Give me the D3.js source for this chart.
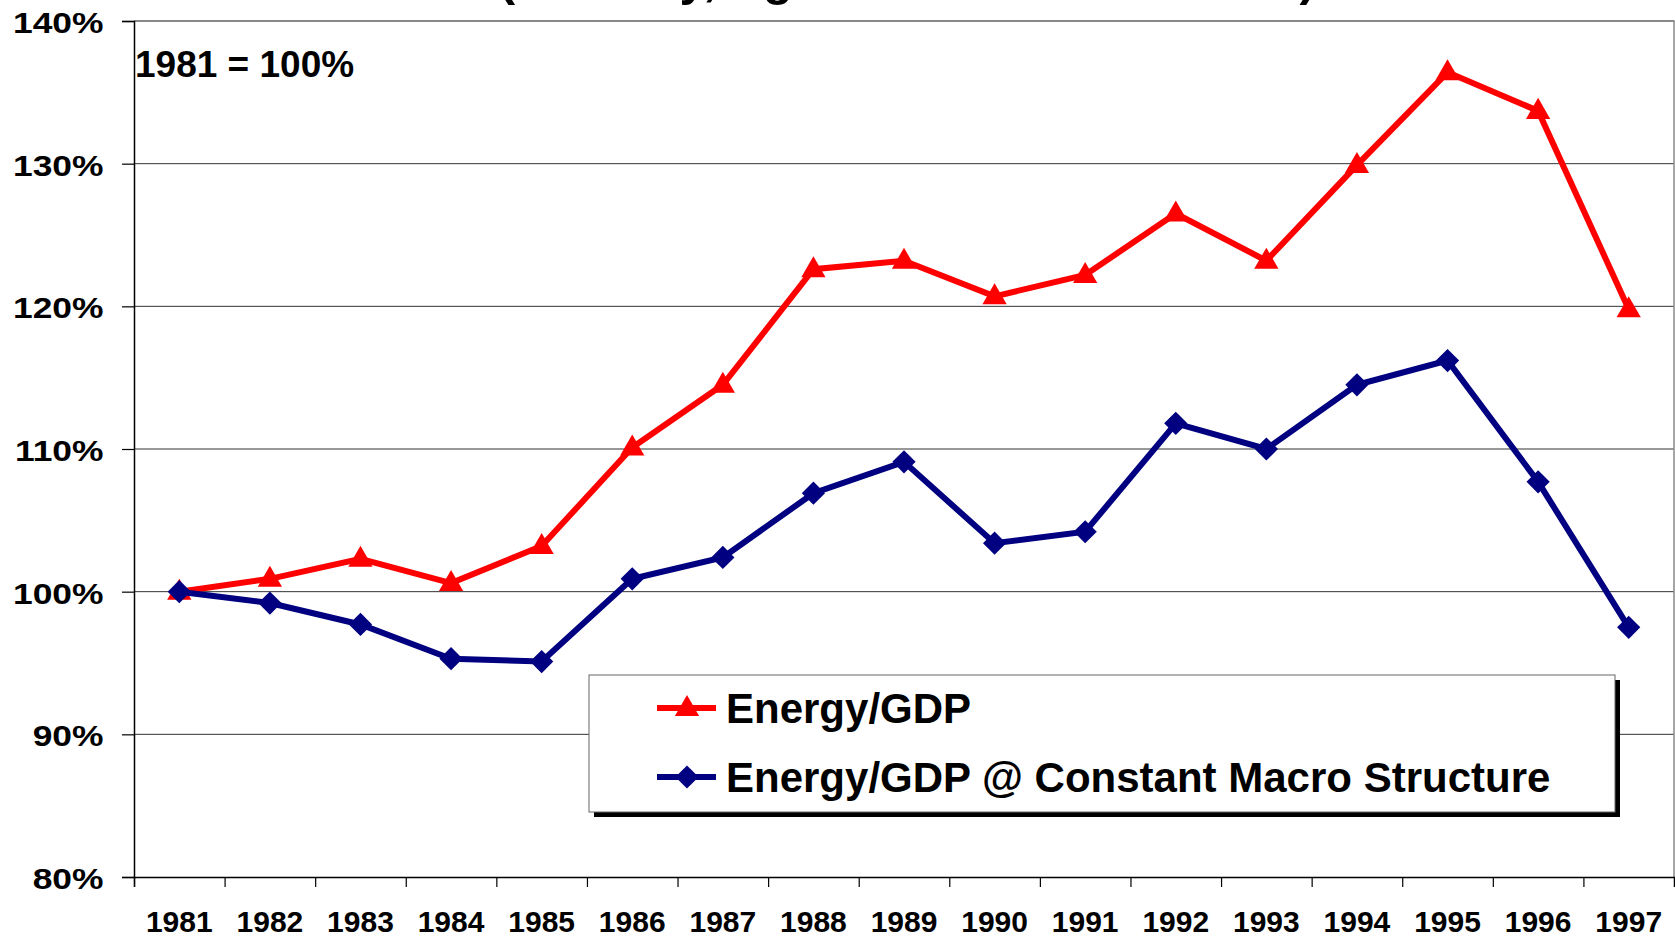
<!DOCTYPE html>
<html>
<head>
<meta charset="utf-8">
<script src="https://cdn.jsdelivr.net/npm/d3@7/dist/d3.min.js"></script>
<style>
  html, body { margin: 0; padding: 0; background: #fff; }
  svg { display: block; font-family: "Liberation Sans", Arial, sans-serif; font-weight: bold; }
</style>
</head>
<body>
<svg id="chart" width="1675" height="938"></svg>
<script>
const years = ["1981","1982","1983","1984","1985","1986","1987","1988","1989","1990","1991","1992","1993","1994","1995","1996","1997"];
const energyGDP = [100.0, 100.9, 102.3, 100.6, 103.2, 110.1, 114.5, 122.6, 123.2, 120.7, 122.2, 126.5, 123.2, 129.9, 136.4, 133.7, 119.8];
const energyGDPConst = [100.0, 99.2, 97.7, 95.3, 95.1, 100.9, 102.4, 106.9, 109.1, 103.4, 104.2, 111.8, 110.0, 114.5, 116.2, 107.7, 97.5];
const yTicks = [80, 90, 100, 110, 120, 130, 140];
const seriesNames = ["Energy/GDP", "Energy/GDP @ Constant Macro Structure"];
const titleText = "(Industry, Agriculture and Services)";
const noteText = "1981 = 100%";

const svg = d3.select("#chart");
const plotLeft = 134, plotRight = 1674, plotTop = 21, plotBottom = 877;

const x = d3.scaleBand().domain(years).range([plotLeft, plotRight]).padding(0);
const xEdge = d3.scaleLinear().domain([0, years.length]).range([plotLeft, plotRight]);
const y = d3.scaleLinear().domain([80, 140]).range([plotBottom, plotTop]);
const cx = d => x(d) + x.bandwidth() / 2;

// title, cut off at the top edge as in the reference (only descenders visible)
svg.append("text").attr("x", 499).attr("y", -5).attr("font-size", 48.5)
  .attr("fill", "#000").text(titleText);

// gridlines
svg.append("g").selectAll("line").data(yTicks.filter(v => v > 80 && v < 140)).join("line")
  .attr("x1", plotLeft).attr("x2", plotRight).attr("y1", d => y(d)).attr("y2", d => y(d))
  .attr("stroke", "#333").attr("stroke-width", 1);
// top & right border
svg.append("line").attr("x1", plotLeft).attr("x2", plotRight + 0.5).attr("y1", y(140)).attr("y2", y(140))
  .attr("stroke", "#888").attr("stroke-width", 2);
svg.append("line").attr("x1", plotRight).attr("x2", plotRight).attr("y1", y(140)).attr("y2", plotBottom)
  .attr("stroke", "#888").attr("stroke-width", 1.5);

// y axis
const yAxis = svg.append("g").attr("transform", `translate(${plotLeft},0)`)
  .call(d3.axisLeft(y).tickValues(yTicks).tickSize(12).tickFormat(d => d + "%"));
yAxis.select(".domain").attr("stroke", "#000").attr("stroke-width", 1.5);
yAxis.selectAll(".tick line").attr("stroke", "#000").attr("stroke-width", 1.2);
yAxis.selectAll(".tick text")
  .attr("x", 0).attr("dy", "0.38em")
  .attr("transform", "translate(-30.5,0) scale(1.18,1)")
  .attr("text-anchor", "end")
  .attr("font-size", 30).attr("font-weight", "bold").attr("fill", "#000")
  .attr("font-family", "Liberation Sans, Arial, sans-serif");

// x axis: tick marks at category edges
const xTickAxis = svg.append("g").attr("transform", `translate(0,${plotBottom})`)
  .call(d3.axisBottom(xEdge).tickValues(d3.range(0, years.length)).tickSize(10).tickFormat(""));
xTickAxis.select(".domain").attr("stroke", "#000").attr("stroke-width", 1.5);
xTickAxis.selectAll(".tick line").attr("stroke", "#000").attr("stroke-width", 1.2);

const xAxis = svg.append("g").attr("transform", `translate(0,${plotBottom})`)
  .call(d3.axisBottom(x).tickSize(0));
xAxis.select(".domain").remove();
xAxis.selectAll(".tick text").attr("y", 33.5).attr("dy", "0.71em")
  .attr("font-size", 30).attr("font-weight", "bold").attr("fill", "#000")
  .attr("font-family", "Liberation Sans, Arial, sans-serif");

// note
svg.append("text").attr("x", 135).attr("y", 77).attr("font-size", 37).attr("fill", "#000").text(noteText);

const line = d3.line().x((d, i) => cx(years[i])).y(d => y(d));
const triangle = d3.symbol().type(d3.symbolTriangle).size(255);
const diamond = d3.symbol().type(d3.symbolSquare).size(270);

// red series
svg.append("path").datum(energyGDP).attr("d", line)
  .attr("fill", "none").attr("stroke", "#ff0000").attr("stroke-width", 6);
svg.append("g").selectAll("path").data(energyGDP).join("path")
  .attr("d", triangle).attr("fill", "#ff0000")
  .attr("transform", (d, i) => `translate(${cx(years[i])},${y(d) + 1})`);

// blue series
svg.append("path").datum(energyGDPConst).attr("d", line)
  .attr("fill", "none").attr("stroke", "#000080").attr("stroke-width", 6);
svg.append("g").selectAll("path").data(energyGDPConst).join("path")
  .attr("d", diamond).attr("fill", "#000080")
  .attr("transform", (d, i) => `translate(${cx(years[i])},${y(d)}) rotate(45)`);

// legend
const lg = svg.append("g");
const lx0 = 589, ly0 = 675, lw = 1026, lh = 137;
lg.append("rect").attr("x", lx0 + 5).attr("y", ly0 + 5).attr("width", lw).attr("height", lh).attr("fill", "#000");
lg.append("rect").attr("x", lx0).attr("y", ly0).attr("width", lw).attr("height", lh)
  .attr("fill", "#fff").attr("stroke", "#666").attr("stroke-width", 1);
const legendItems = [
  { name: seriesNames[0], color: "#ff0000", sym: triangle, rot: 0, dy: 1 },
  { name: seriesNames[1], color: "#000080", sym: diamond, rot: 45, dy: 0 }
];
const itemY = [708, 777];
legendItems.forEach((it, i) => {
  const g = lg.append("g").attr("transform", `translate(0,${itemY[i]})`);
  g.append("line").attr("x1", 657).attr("x2", 716).attr("y1", 0).attr("y2", 0)
    .attr("stroke", it.color).attr("stroke-width", 6);
  g.append("path").attr("d", it.sym).attr("fill", it.color)
    .attr("transform", `translate(687,${it.dy}) rotate(${it.rot})`);
  g.append("text").attr("x", 726).attr("y", 15).attr("font-size", 42).attr("fill", "#000").text(it.name);
});
</script>
</body>
</html>
